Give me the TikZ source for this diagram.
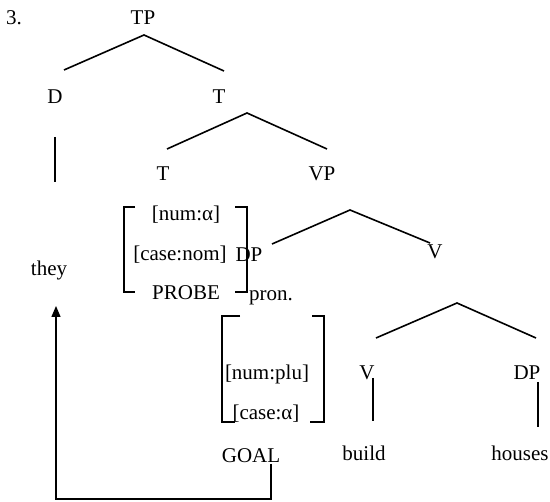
\documentclass[tikz,border=0pt]{standalone}
\usepackage{fontspec}
\setmainfont{Liberation Serif}
\usetikzlibrary{arrows.meta}
\begin{document}
\begin{tikzpicture}[x=1pt,y=-1pt,
  lbl/.style={inner sep=0pt, font=\fontsize{21}{25}\selectfont},
  edge/.style={line width=1.6pt},
  brk/.style={line width=1.6pt},
  mover/.style={line width=1.5pt, -{Triangle[width=9pt,length=11pt]}}]
\useasboundingbox (0,0) rectangle (550,502);
% labels
\node[lbl] (num) at (14,18) {3.};
\node[lbl] (TP) at (143,18) {TP};
\node[lbl] (D) at (55,97) {D};
\node[lbl] (T1) at (219,97) {T};
\node[lbl] (T2) at (163,174) {T};
\node[lbl] (VP) at (322,174) {VP};
\node[lbl] (they) at (49,270) {they};
\node[lbl] (numa) at (186,215) {[num:α]};
\node[lbl] (case) at (180,255) {[case:nom]};
\node[lbl] (DP1) at (249,255) {DP};
\node[lbl] (V1) at (435,252) {V};
\node[lbl] (probe) at (186,293) {PROBE};
\node[lbl] (pron) at (271,298) {pron.};
\node[lbl] (numplu) at (267,374) {[num:plu]};
\node[lbl] (casea) at (266,414) {[case:α]};
\node[lbl] (V2) at (367,373) {V};
\node[lbl] (DP2) at (527,373) {DP};
\node[lbl] (goal) at (251,456) {GOAL};
\node[lbl] (build) at (364,453) {build};
\node[lbl] (houses) at (520,453) {houses};
% branch points
\coordinate (tpA) at (144,35);
\coordinate (tpL) at (64,70);
\coordinate (tpR) at (224,71);
\coordinate (dT) at (55,137);
\coordinate (dB) at (55,182);
\coordinate (tA) at (247,113);
\coordinate (tL) at (167,149);
\coordinate (tR) at (327,149);
\coordinate (vpA) at (350,210);
\coordinate (vpL) at (272,244);
\coordinate (vpR) at (430,243);
\coordinate (vA) at (457,303);
\coordinate (vL) at (376,338);
\coordinate (vR) at (536,338);
\coordinate (v2T) at (373,378);
\coordinate (v2B) at (373,421);
\coordinate (dp2T) at (538,382);
\coordinate (dp2B) at (538,427);
\coordinate (gT) at (271,464);
\coordinate (gB) at (271,499);
\coordinate (aB) at (56,499);
\coordinate (aT) at (56,306);
% tree edges
\draw[edge] (tpL) -- (tpA) -- (tpR);
\draw[edge] (dT) -- (dB);
\draw[edge] (tL) -- (tA) -- (tR);
\draw[edge] (vpL) -- (vpA) -- (vpR);
\draw[edge] (vL) -- (vA) -- (vR);
\draw[edge] (v2T) -- (v2B);
\draw[edge] (dp2T) -- (dp2B);
% brackets
\draw[brk] (135,207) -- (124,207) -- (124,292) -- (135,292);
\draw[brk] (235,207) -- (247,207) -- (247,292) -- (235,292);
\draw[brk] (240,316) -- (222,316) -- (222,422) -- (235,422);
\draw[brk] (312,316) -- (324,316) -- (324,422) -- (310,422);
% movement arrow
\draw[mover] (gT) -- (gB) -- (aB) -- (aT);
\end{tikzpicture}
\end{document}
